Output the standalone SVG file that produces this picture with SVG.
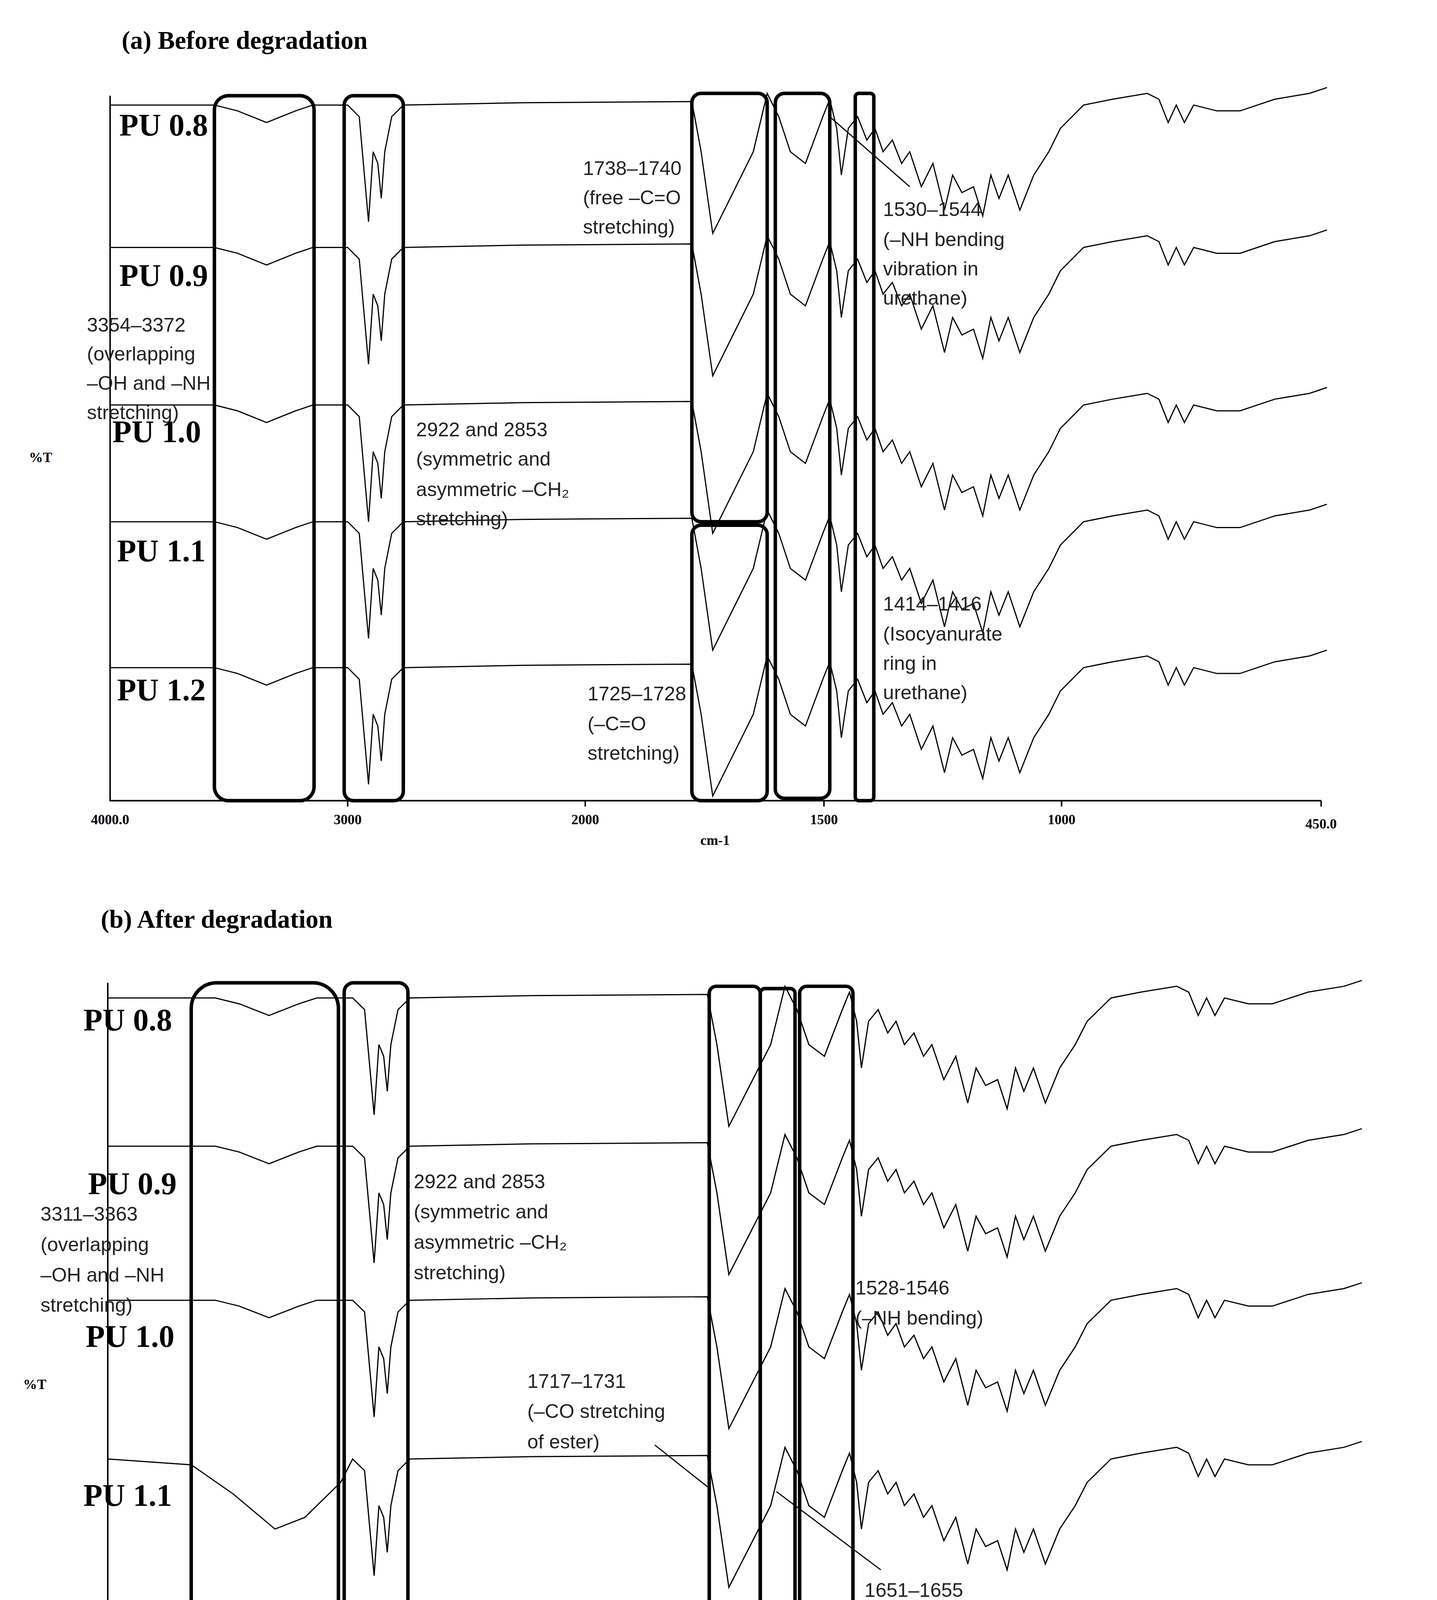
<svg xmlns="http://www.w3.org/2000/svg" width="3679" height="4671" viewBox="0 0 3679 4671">
<style>
.ax{fill:none;stroke:#000;stroke-width:1.3}
.tr{fill:none;stroke:#000;stroke-width:1}
.bx{fill:none;stroke:#000;stroke-width:3}
.ttl{font-family:"Liberation Serif",serif;font-weight:bold;font-size:22px}
.pu{font-family:"Liberation Serif",serif;font-weight:bold;font-size:27px}
.tk{font-family:"Liberation Serif",serif;font-weight:bold;font-size:12px}
.lb{font-family:"Liberation Sans",sans-serif;font-size:17px;fill:#222}
.ln{stroke:#000;stroke-width:1}
</style>
<defs>
<path id="tr" class="tr" d="M95,0 L185,0 L205,5 L230,15 L255,5 L270,0 L300,0 L310,10 L318,100 L322,40 L326,50 L329,80 L332,40 L338,10 L348,0 L450,-2 L597,-3 L605,40 L615,110 L630,80 L650,40 L662,-10 L672,10 L682,40 L695,50 L710,10 L716,-5 L722,20 L726,60 L732,20 L740,10 L748,30 L755,20 L762,40 L770,30 L778,50 L785,40 L795,70 L805,50 L815,90 L822,60 L830,75 L840,70 L848,95 L855,60 L862,80 L870,60 L880,90 L892,60 L905,40 L915,20 L935,0 L960,-5 L990,-10 L1000,-5 L1008,15 L1015,0 L1022,15 L1030,0 L1050,5 L1070,5 L1100,-5 L1130,-10 L1145,-15"/>
<path id="tr2" class="tr" d="M95,0 L165,5 L200,30 L235,60 L260,50 L290,20 L300,0 L310,10 L318,100 L322,40 L326,50 L329,80 L332,40 L338,10 L348,0 L450,-2 L597,-3 L605,40 L615,110 L630,80 L650,40 L662,-10 L672,10 L682,40 L695,50 L710,10 L716,-5 L722,20 L726,60 L732,20 L740,10 L748,30 L755,20 L762,40 L770,30 L778,50 L785,40 L795,70 L805,50 L815,90 L822,60 L830,75 L840,70 L848,95 L855,60 L862,80 L870,60 L880,90 L892,60 L905,40 L915,20 L935,0 L960,-5 L990,-10 L1000,-5 L1008,15 L1015,0 L1022,15 L1030,0 L1050,5 L1070,5 L1100,-5 L1130,-10 L1145,-15"/>
</defs>
<rect width="3679" height="4671" fill="#fff"/>
<g transform="scale(2.967,2.988)">
<g id="panel-a">
<text class="ttl" x="105" y="42">(a) Before degradation</text>
<path class="ax" d="M95,82 V686 H1140 M300,686 v5 M505,686 v5 M711,686 v5 M916,686 v5 M1140,686 v5"/>
<text class="tk" x="95" y="706" text-anchor="middle">4000.0</text>
<text class="tk" x="300" y="706" text-anchor="middle">3000</text>
<text class="tk" x="505" y="706" text-anchor="middle">2000</text>
<text class="tk" x="711" y="706" text-anchor="middle">1500</text>
<text class="tk" x="916" y="706" text-anchor="middle">1000</text>
<text class="tk" x="1140" y="710" text-anchor="middle">450.0</text>
<text class="tk" x="617" y="724" text-anchor="middle">cm-1</text>
<text class="tk" x="35" y="396" text-anchor="middle">%T</text>
<use href="#tr" transform="translate(0,90)"/>
<use href="#tr" transform="translate(0,212)"/>
<use href="#tr" transform="translate(0,347)"/>
<use href="#tr" transform="translate(0,447)"/>
<use href="#tr" transform="translate(0,572)"/>
<rect class="bx" x="185" y="82" width="86" height="604" rx="12"/>
<rect class="bx" x="297" y="82" width="51" height="604" rx="8"/>
<rect class="bx" x="597" y="80" width="65" height="367" rx="8"/>
<rect class="bx" x="597" y="450" width="65" height="236" rx="8"/>
<rect class="bx" x="669" y="80" width="47" height="604" rx="8"/>
<rect class="bx" x="738" y="80" width="16" height="606" rx="3"/>
<text class="pu" x="103" y="116">PU 0.8</text>
<text class="pu" x="103" y="245">PU 0.9</text>
<text class="pu" x="97" y="379">PU 1.0</text>
<text class="pu" x="101" y="481">PU 1.1</text>
<text class="pu" x="101" y="600">PU 1.2</text>
<line class="ln" x1="716" y1="100" x2="785" y2="160"/>
<text class="lb"><tspan x="503" y="150">1738–1740</tspan><tspan x="503" y="175">(free –C=O</tspan><tspan x="503" y="200">stretching)</tspan></text>
<text class="lb"><tspan x="762" y="185">1530–1544</tspan><tspan x="762" y="211">(–NH bending</tspan><tspan x="762" y="236">vibration in</tspan><tspan x="762" y="261">urethane)</tspan></text>
<text class="lb"><tspan x="75" y="284">3354–3372</tspan><tspan x="75" y="309">(overlapping</tspan><tspan x="75" y="334">–OH and –NH</tspan><tspan x="75" y="359">stretching)</tspan></text>
<text class="lb"><tspan x="359" y="374">2922 and 2853</tspan><tspan x="359" y="399">(symmetric and</tspan><tspan x="359" y="425">asymmetric –CH₂</tspan><tspan x="359" y="450">stretching)</tspan></text>
<text class="lb"><tspan x="762" y="523">1414–1416</tspan><tspan x="762" y="549">(Isocyanurate</tspan><tspan x="762" y="574">ring in</tspan><tspan x="762" y="599">urethane)</tspan></text>
<text class="lb"><tspan x="507" y="600">1725–1728</tspan><tspan x="507" y="626">(–C=O</tspan><tspan x="507" y="651">stretching)</tspan></text>
</g>
<g id="panel-b">
<text class="ttl" x="87" y="795">(b) After degradation</text>
<path class="ax" d="M93,842 V1512 H1170 M305,1512 v5 M515,1512 v5 M727,1512 v5 M938,1512 v5 M1170,1512 v5"/>
<text class="tk" x="93" y="1534" text-anchor="middle">4000.0</text>
<text class="tk" x="305" y="1534" text-anchor="middle">3000</text>
<text class="tk" x="515" y="1534" text-anchor="middle">2000</text>
<text class="tk" x="727" y="1534" text-anchor="middle">1500</text>
<text class="tk" x="938" y="1534" text-anchor="middle">1000</text>
<text class="tk" x="1170" y="1538" text-anchor="middle">450.0</text>
<text class="tk" x="630" y="1554" text-anchor="middle">cm-1</text>
<text class="tk" x="30" y="1190" text-anchor="middle">%T</text>
<g transform="translate(-4.9,0) scale(1.0306,1)">
<use href="#tr" transform="translate(0,855)"/>
<use href="#tr" transform="translate(0,982)"/>
<use href="#tr" transform="translate(0,1114)"/>
<use href="#tr2" transform="translate(0,1250)"/>
<use href="#tr2" transform="translate(0,1392)"/>
</g>
<rect class="bx" x="165" y="842" width="127" height="668" rx="22"/>
<rect class="bx" x="297" y="842" width="55" height="670" rx="8"/>
<rect class="bx" x="612" y="845" width="44" height="667" rx="6"/>
<rect class="bx" x="656" y="847" width="30" height="665" rx="4"/>
<rect class="bx" x="690" y="845" width="46" height="667" rx="6"/>
<text class="pu" x="72" y="883">PU 0.8</text>
<text class="pu" x="76" y="1023">PU 0.9</text>
<text class="pu" x="74" y="1154">PU 1.0</text>
<text class="pu" x="72" y="1290">PU 1.1</text>
<text class="pu" x="75" y="1423">PU 1.2</text>
<line class="ln" x1="565" y1="1238" x2="612" y2="1275"/>
<line class="ln" x1="670" y1="1278" x2="760" y2="1345"/>
<text class="lb"><tspan x="35" y="1046">3311–3363</tspan><tspan x="35" y="1072">(overlapping</tspan><tspan x="35" y="1098">–OH and –NH</tspan><tspan x="35" y="1124">stretching)</tspan></text>
<text class="lb"><tspan x="357" y="1018">2922 and 2853</tspan><tspan x="357" y="1044">(symmetric and</tspan><tspan x="357" y="1070">asymmetric –CH₂</tspan><tspan x="357" y="1096">stretching)</tspan></text>
<text class="lb"><tspan x="738" y="1109">1528-1546</tspan><tspan x="738" y="1135">(–NH bending)</tspan></text>
<text class="lb"><tspan x="455" y="1189">1717–1731</tspan><tspan x="455" y="1215">(–CO stretching</tspan><tspan x="455" y="1241">of ester)</tspan></text>
<text class="lb"><tspan x="746" y="1368">1651–1655</tspan><tspan x="746" y="1395">(CO²⁻ asymmetric</tspan><tspan x="746" y="1421">stretching)</tspan></text>
</g>
</g>
</svg>
